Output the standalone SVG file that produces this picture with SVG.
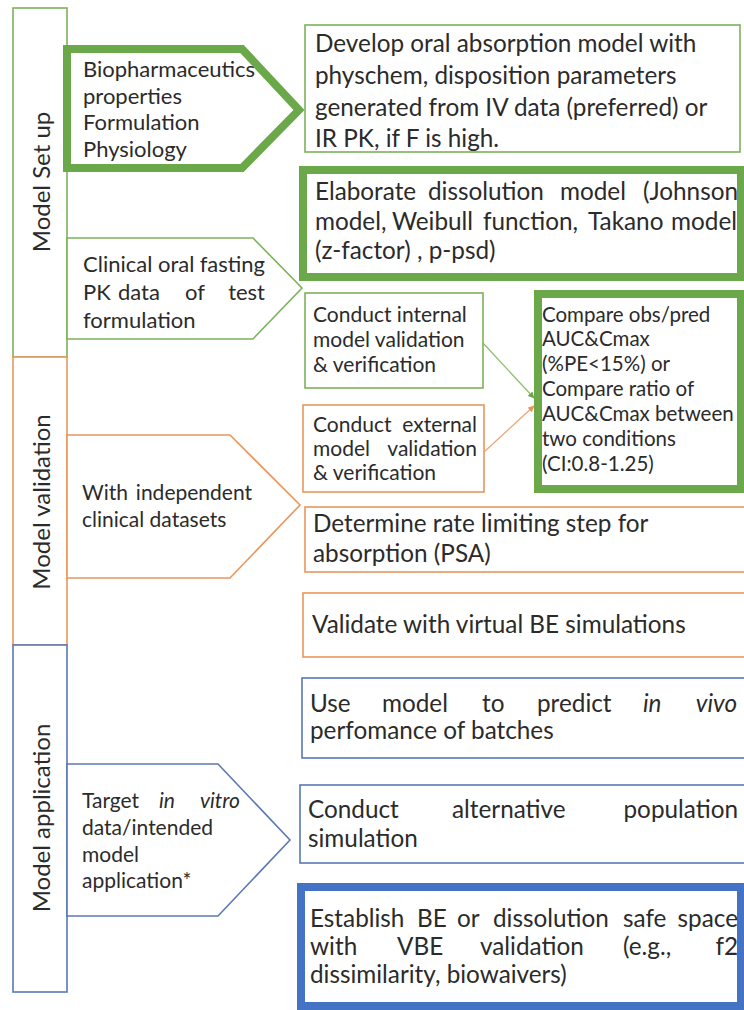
<svg xmlns="http://www.w3.org/2000/svg" width="744" height="1010" viewBox="0 0 744 1010">
<style>
text{font-family:Lato,"Liberation Sans",sans-serif;fill:#2b2b2b;}
.g{fill:#fff;stroke:#7cb25a;stroke-width:1.6;}
.gT{fill:#fff;stroke:#6aa84a;stroke-width:8;}
.o{fill:#fff;stroke:#e8975c;stroke-width:1.6;}
.b{fill:#fff;stroke:#5b79b3;stroke-width:1.6;}
.bT{fill:#fff;stroke:#4472c4;stroke-width:8;}
.big{font-size:24.3px;}
.sm{font-size:21px;}
.cmp{font-size:20.5px;}
.lab1{font-size:22px;}
.lab2{font-size:22px;}
.lab{font-size:21px;}
.vert{font-size:24px;}
.e{text-anchor:end;}
.i{font-style:italic;}
</style>
<defs>
<marker id="ag" viewBox="0 0 10 10" refX="9" refY="5" markerWidth="5" markerHeight="5" orient="auto"><path d="M0,0L10,5L0,10z" fill="#6aa84a"/></marker>
<marker id="ao" viewBox="0 0 10 10" refX="9" refY="5" markerWidth="5" markerHeight="5" orient="auto"><path d="M0,0L10,5L0,10z" fill="#e8975c"/></marker>
</defs>
<rect width="744" height="1010" fill="#fff"/>

<g id="col-setup"><rect class="g" x="13" y="8" width="54" height="349"/><text class="vert" text-anchor="middle" transform="translate(50,182) rotate(-90)">Model Set up</text></g>
<g id="col-validation"><rect class="o" x="13" y="357" width="54" height="288"/><text class="vert" text-anchor="middle" transform="translate(50,502) rotate(-90)">Model validation</text></g>
<g id="col-application"><rect class="b" x="13" y="645" width="54" height="347"/><text class="vert" text-anchor="middle" transform="translate(50,818) rotate(-90)">Model application</text></g>

<g id="in-biopharm"><polygon class="gT" points="67,49 242,49 299,110 242,168 67,168"/>
<text class="lab1"><tspan x="83" y="77">Biopharmaceutics</tspan><tspan x="83" y="104">properties</tspan><tspan x="83" y="130">Formulation</tspan><tspan x="83" y="157">Physiology</tspan></text></g>

<g id="in-clinical"><polygon class="g" points="67,238 253,238 302,288 253,339 67,339"/>
<text class="lab2"><tspan x="83" y="272">Clinical</tspan><tspan x="158" y="272">oral</tspan><tspan x="265" y="272" class="e">fasting</tspan><tspan x="83" y="300">PK</tspan><tspan x="118" y="300">data</tspan><tspan x="185" y="300">of</tspan><tspan x="265" y="300" class="e">test</tspan><tspan x="83" y="328">formulation</tspan></text></g>

<g id="in-independent"><polygon class="o" points="67,435 230,435 300,505 230,578 67,578"/>
<text class="lab"><tspan x="82" y="500">With</tspan><tspan x="252" y="500" class="e">independent</tspan><tspan x="82" y="527">clinical datasets</tspan></text></g>

<g id="in-target"><polygon class="b" points="67,764 218,764 290,840 218,916 67,916"/>
<text class="lab"><tspan x="82" y="808">Target</tspan><tspan x="159" y="808" class="i">in</tspan><tspan x="240" y="808" class="e i">vitro</tspan><tspan x="82" y="835">data/intended</tspan><tspan x="82" y="862">model</tspan><tspan x="82" y="888">application*</tspan></text></g>

<g id="box-develop"><rect class="g" x="305" y="25" width="435" height="127"/>
<text class="big"><tspan x="315" y="52">Develop oral absorption model with</tspan><tspan x="315" y="84">physchem, disposition parameters</tspan><tspan x="315" y="116">generated from IV data (preferred) or</tspan><tspan x="315" y="147">IR PK, if F is high.</tspan></text></g>

<g id="box-dissolution"><rect class="gT" x="303" y="170" width="438" height="107"/>
<text class="big"><tspan x="315" y="200">Elaborate</tspan><tspan x="428" y="200">dissolution</tspan><tspan x="560" y="200">model</tspan><tspan x="738" y="200" class="e">(Johnson</tspan><tspan x="315" y="230">model,</tspan><tspan x="392" y="230">Weibull</tspan><tspan x="483" y="230">function,</tspan><tspan x="588" y="230">Takano</tspan><tspan x="737" y="230" class="e">model</tspan><tspan x="315" y="259">(z-factor) , p-psd)</tspan></text></g>

<g id="box-internal"><rect class="g" x="305" y="293" width="178" height="95"/>
<text class="sm"><tspan x="313" y="322">Conduct internal</tspan><tspan x="313" y="347">model validation</tspan><tspan x="313" y="372">&amp; verification</tspan></text></g>

<g id="box-external"><rect class="o" x="303" y="405" width="181" height="87"/>
<text class="sm"><tspan x="313" y="432">Conduct</tspan><tspan x="477" y="432" class="e">external</tspan><tspan x="313" y="456">model</tspan><tspan x="477" y="456" class="e">validation</tspan><tspan x="313" y="480">&amp; verification</tspan></text></g>

<g id="box-compare"><rect class="gT" x="538" y="294" width="203" height="195"/>
<text class="cmp"><tspan x="542" y="322">Compare obs/pred</tspan><tspan x="542" y="346">AUC&amp;Cmax</tspan><tspan x="542" y="371">(%PE&lt;15%) or</tspan><tspan x="542" y="396">Compare ratio of</tspan><tspan x="542" y="421">AUC&amp;Cmax between</tspan><tspan x="542" y="446">two conditions</tspan><tspan x="542" y="471">(CI:0.8-1.25)</tspan></text></g>

<g id="box-rate"><rect class="o" x="305" y="507" width="445" height="65"/>
<text class="big"><tspan x="313" y="532">Determine rate limiting step for</tspan><tspan x="313" y="562">absorption (PSA)</tspan></text></g>

<g id="box-virtual"><rect class="o" x="303" y="593" width="447" height="64"/>
<text class="big" x="312" y="633">Validate with virtual BE simulations</text></g>

<g id="box-predict"><rect class="b" x="302" y="678" width="448" height="80"/>
<text class="big"><tspan x="310" y="712">Use</tspan><tspan x="382" y="712">model</tspan><tspan x="482" y="712">to</tspan><tspan x="537" y="712">predict</tspan><tspan x="643" y="712" class="i">in</tspan><tspan x="737" y="712" class="e i">vivo</tspan><tspan x="310" y="739">perfomance of batches</tspan></text></g>

<g id="box-population"><rect class="b" x="300" y="785" width="450" height="78"/>
<text class="big"><tspan x="308" y="818">Conduct</tspan><tspan x="452" y="818">alternative</tspan><tspan x="738" y="818" class="e">population</tspan><tspan x="308" y="847">simulation</tspan></text></g>

<g id="box-safe-space"><rect class="bT" x="301" y="887" width="440" height="119"/>
<text class="big"><tspan x="310" y="927">Establish</tspan><tspan x="417" y="927">BE</tspan><tspan x="457" y="927">or</tspan><tspan x="493" y="927">dissolution</tspan><tspan x="623" y="927">safe</tspan><tspan x="738" y="927" class="e">space</tspan><tspan x="310" y="955">with</tspan><tspan x="397" y="955">VBE</tspan><tspan x="480" y="955">validation</tspan><tspan x="623" y="955">(e.g.,</tspan><tspan x="738" y="955" class="e">f2</tspan><tspan x="310" y="983">dissimilarity, biowaivers)</tspan></text></g>

<g id="connectors">
<line x1="483" y1="343" x2="534" y2="398" stroke="#8cc06a" stroke-width="1.3" marker-end="url(#ag)"/>
<line x1="484" y1="452" x2="534" y2="406" stroke="#eea676" stroke-width="1.3" marker-end="url(#ao)"/>
</g>
</svg>
